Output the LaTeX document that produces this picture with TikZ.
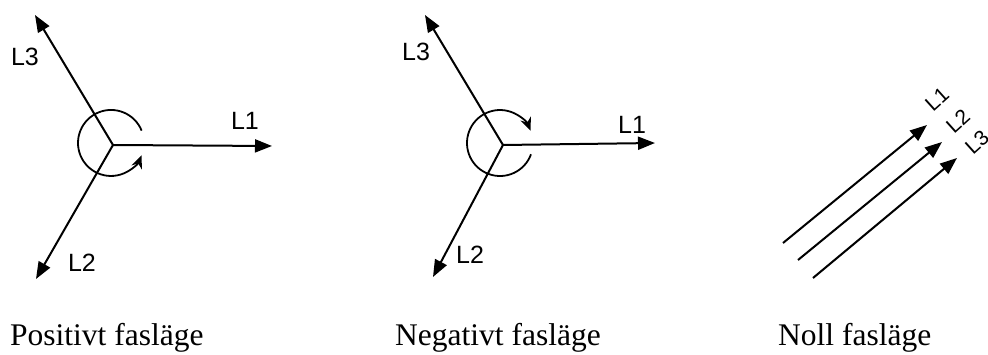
\documentclass[tikz,border=0pt]{standalone}
\usepackage{fontspec}
\setmainfont{Liberation Serif}
\newfontfamily\lblfont{Liberation Sans}
\usetikzlibrary{arrows.meta}
\begin{document}
\begin{tikzpicture}[x=1pt,y=1pt,
  vec/.style={line width=2pt,-{Triangle[length=17pt,width=13pt]}},
  rotarrow/.style={line width=1.8pt,-{Stealth[length=13pt,width=11pt]}},
  lbl/.style={font=\lblfont\fontsize{25}{25}\selectfont,inner sep=0pt},
  rlbl/.style={font=\lblfont\fontsize{21}{21}\selectfont,inner sep=0pt,rotate=42},
  captext/.style={font=\fontsize{31.5}{31.5}\selectfont,anchor=base west,inner sep=0pt}]
\useasboundingbox (0,0) rectangle (988,354);
% ---- Positive
\coordinate (c1) at (113,209);
\coordinate (a1) at (272,208);
\coordinate (a3) at (35,339);
\coordinate (a2) at (36,75);
\draw[vec] (c1) -- (a1);
\draw[vec] (c1) -- (a3);
\draw[vec] (c1) -- (a2);
\coordinate (r1) at (141.6,223.4);
\draw[rotarrow] (r1) arc[start angle=22,end angle=338,radius=33];
\node[lbl] (la3) at (25,297) {L3};
\node[lbl] (la1) at (245,233) {L1};
\node[lbl] (la2) at (82,91) {L2};
% ---- Negative
\coordinate (c2) at (503,209);
\coordinate (b1) at (655,211);
\coordinate (b3) at (425,339);
\coordinate (b2) at (433,77);
\draw[vec] (c2) -- (b1);
\draw[vec] (c2) -- (b3);
\draw[vec] (c2) -- (b2);
\coordinate (r2) at (531,199.7);
\draw[rotarrow] (r2) arc[start angle=-20,end angle=-338,radius=33];
\node[lbl] (lb3) at (416,302) {L3};
\node[lbl] (lb1) at (632,229) {L1};
\node[lbl] (lb2) at (470,99) {L2};
% ---- Zero
\coordinate (s1) at (783,111); \coordinate (e1) at (927,229);
\coordinate (s2) at (798,94);  \coordinate (e2) at (942,212);
\coordinate (s3) at (813,76);  \coordinate (e3) at (957,196);
\draw[vec] (s1) -- (e1);
\draw[vec] (s2) -- (e2);
\draw[vec] (s3) -- (e3);
\node[rlbl] (lc1) at (937,255) {L1};
\node[rlbl] (lc2) at (958,233) {L2};
\node[rlbl] (lc3) at (977,212) {L3};
% ---- Captions
\node[captext] (t1) at (10,9) {Positivt fasläge};
\node[captext] (t2) at (395,9) {Negativt fasläge};
\node[captext] (t3) at (778,9) {Noll fasläge};
\end{tikzpicture}
\end{document}
